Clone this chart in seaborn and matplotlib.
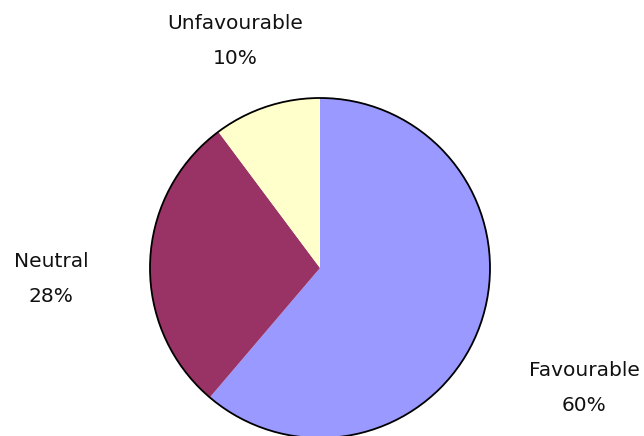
import numpy as np
import matplotlib
matplotlib.use('Agg')
import matplotlib.pyplot as plt
import seaborn as sns

# data
categories = ['Favourable', 'Neutral', 'Unfavourable']
values = [60, 28, 10]
colors = ['#9999FF', '#993366', '#FFFFCC']

sns.set_theme(style='white')
plt.rcParams['font.family'] = ['DejaVu Sans']

fig = plt.figure(figsize=(6.44, 4.36), dpi=100)
# pie centre at (320, 268) px, radius 170 px
ax = fig.add_axes([150 / 644, -2 / 436, 340 / 644, 340 / 436])

wedges, _ = ax.pie(values, colors=colors, startangle=90, counterclock=False,
                   radius=1.0, wedgeprops=dict(linewidth=0))
for w in wedges:
    w.set_clip_on(False)

# outer outline only
outline = plt.Circle((0, 0), 1.0, fill=False, edgecolor='black', linewidth=1.3, clip_on=False)
ax.add_patch(outline)
ax.set_xlim(-1, 1)
ax.set_ylim(-1, 1)
ax.set_aspect('equal')
ax.axis('off')

# label centres in pixels (x, y from top)
label_pos = {'Favourable': (584, 388), 'Neutral': (51, 279), 'Unfavourable': (235, 41)}
for cat, val in zip(categories, values):
    x, y = label_pos[cat]
    fig.text(x / 644, 1 - y / 436, f'{cat}\n{val}%', ha='center', va='center',
             fontsize=14.5, linespacing=2.05, color='#111111')

fig.savefig('out.png', dpi=100)
